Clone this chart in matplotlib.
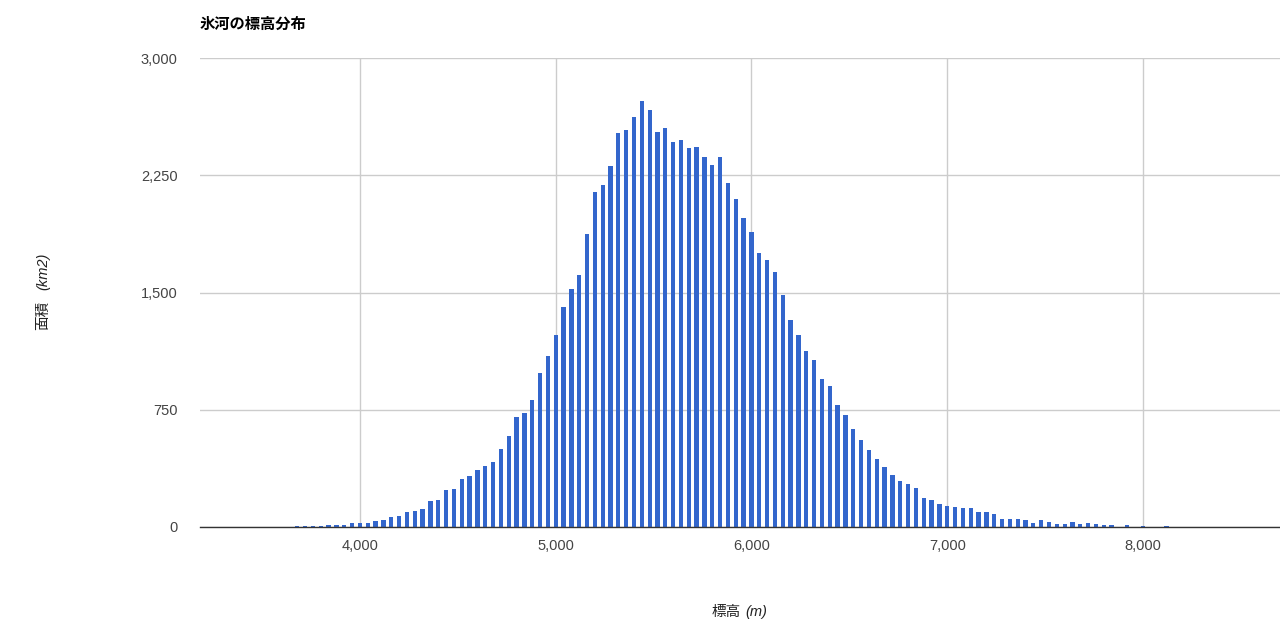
import matplotlib
matplotlib.use("Agg")
import matplotlib.pyplot as plt
from matplotlib.ticker import FuncFormatter

# 標高ビン (m) と面積 (km2)
elevations = list(range(3680, 8160, 40))
areas = [
    6, 6, 6, 6, 11, 11, 11, 26, 26, 26,
    36, 47, 64, 70, 96, 102, 113, 166, 173, 237,
    243, 305, 324, 362, 390, 418, 499, 580, 706, 731,
    812, 983, 1096, 1226, 1405, 1524, 1612, 1876, 2143, 2185,
    2311, 2522, 2539, 2620, 2723, 2665, 2529, 2555, 2464, 2475,
    2426, 2430, 2367, 2313, 2367, 2198, 2096, 1976, 1885, 1753,
    1710, 1629, 1482, 1324, 1226, 1124, 1068, 949, 902, 782,
    716, 629, 558, 492, 433, 384, 335, 292, 275, 247,
    183, 173, 145, 134, 128, 124, 124, 96, 96, 85,
    53, 53, 53, 47, 26, 47, 32, 19, 19, 30,
    19, 23, 19, 11, 11, 0, 15, 0, 6, 0,
    0, 6,
]
x_ticks = [4000, 5000, 6000, 7000, 8000]
y_ticks = [0, 750, 1500, 2250, 3000]

fonts = ["Liberation Sans", "Noto Sans CJK JP", "DejaVu Sans"]
plt.rcParams["font.family"] = fonts

W, H = 1280, 624
fig = plt.figure(figsize=(W / 100, H / 100), dpi=100)
ax = fig.add_axes([200 / W, (H - 527) / H, 1080 / W, 469 / H])

ax.bar(elevations, areas, width=22, color="#3366cc", linewidth=0, zorder=3)

ax.set_xlim(3183, 8700)
ax.set_ylim(0, 3000)
ax.set_xticks(x_ticks)
ax.set_yticks(y_ticks)
fmt = FuncFormatter(lambda v, p: f"{int(v):,}")
ax.xaxis.set_major_formatter(fmt)
ax.yaxis.set_major_formatter(fmt)
ax.tick_params(length=0, labelsize=10.5, labelcolor="#444444")
ax.tick_params(axis="x", pad=9)
ax.tick_params(axis="y", pad=16)

ax.grid(True, color="#cccccc", linewidth=1, zorder=0)
for s in ["top", "right", "left"]:
    ax.spines[s].set_visible(False)
ax.spines["bottom"].set_color("#333333")
ax.spines["bottom"].set_linewidth(1)
ax.spines["bottom"].set_zorder(4)

fig.text(200 / W, 1 - 25 / H, "氷河の標高分布", fontsize=11, fontweight="bold",
         ha="left", va="center", color="#000000")

# y軸ラベル
fig.text(43 / W, 1 - 330 / H, "面積", rotation=90, fontsize=10.5,
         ha="center", va="bottom", color="#222222")
fig.text(43 / W, 1 - 290 / H, "(km2)", rotation=90, fontsize=10.5, style="italic",
         ha="center", va="bottom", color="#222222")

# x軸ラベル
fig.text(741 / W, 1 - 612 / H, "標高", fontsize=10.5,
         ha="right", va="center", color="#222222")
fig.text(745 / W, 1 - 612 / H, "(m)", fontsize=10.5, style="italic",
         ha="left", va="center", color="#222222")

fig.savefig("out.png", dpi=100)
